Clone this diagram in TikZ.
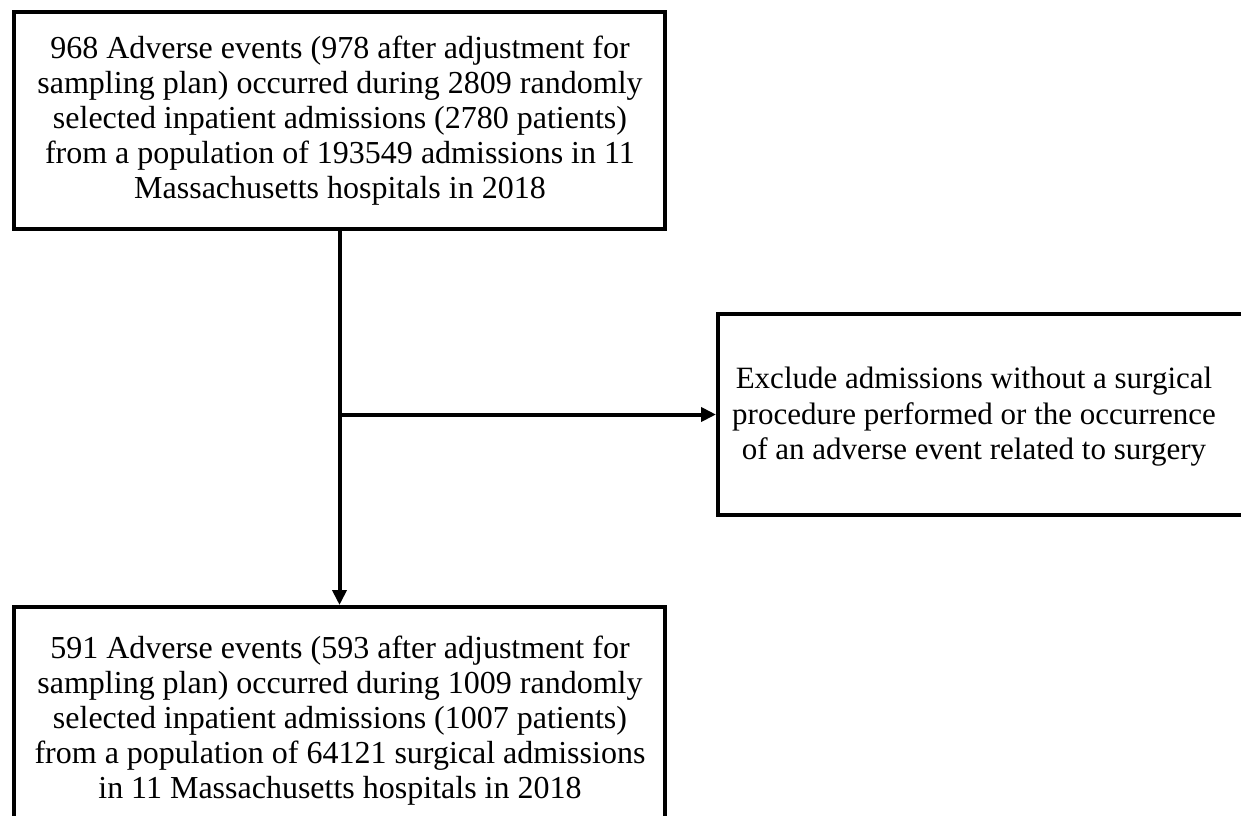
\documentclass[tikz,border=0pt]{standalone}
\usepackage{fontspec}
\setmainfont{Liberation Serif}
\usetikzlibrary{arrows.meta}
\begin{document}
\begin{tikzpicture}[x=1pt,y=-1pt,
  box/.style={draw=black,line width=4pt,fill=none,inner sep=0pt},
  txt/.style={align=center,inner sep=0pt,font=\fontsize{32}{35}\selectfont},
  txtside/.style={txt,font=\fontsize{31}{35.5}\selectfont},
  flow/.style={line width=4pt,-{Triangle[length=15pt,width=14pt]}}]
\useasboundingbox (0,0) rectangle (1241,815);
\clip (0,0) rectangle (1241,815);
\fill[white] (0,0) rectangle (1241,815);

% study population box
\node[box,minimum width=651pt,minimum height=217pt] (pop) at (339.5,120.5) {};
\node[txt] (poptext) at (340,121) {968 Adverse events (978 after adjustment for\\
sampling plan) occurred during 2809 randomly\\
selected inpatient admissions (2780 patients)\\
from a population of 193549 admissions in 11\\
Massachusetts hospitals in 2018};

% exclusion box (runs past the right margin)
\node[box,minimum width=560pt,minimum height=201pt] (excl) at (998,414.5) {};
\node[txtside] (excltext) at (974,417) {Exclude admissions without a surgical\\
procedure performed or the occurrence\\
of an adverse event related to surgery};

% surgical cohort box (runs past the bottom margin)
\node[box,minimum width=651pt,minimum height=240pt] (surg) at (339.5,727) {};
\node[txt] (surgtext) at (340,721) {591 Adverse events (593 after adjustment for\\
sampling plan) occurred during 1009 randomly\\
selected inpatient admissions (1007 patients)\\
from a population of 64121 surgical admissions\\
in 11 Massachusetts hospitals in 2018};

% connectors
\coordinate (branch) at (pop.south |- excl.west);
\draw[flow] (pop.south) -- (surg.north);
\draw[flow] (branch) -- (excl.west);
\end{tikzpicture}
\end{document}
